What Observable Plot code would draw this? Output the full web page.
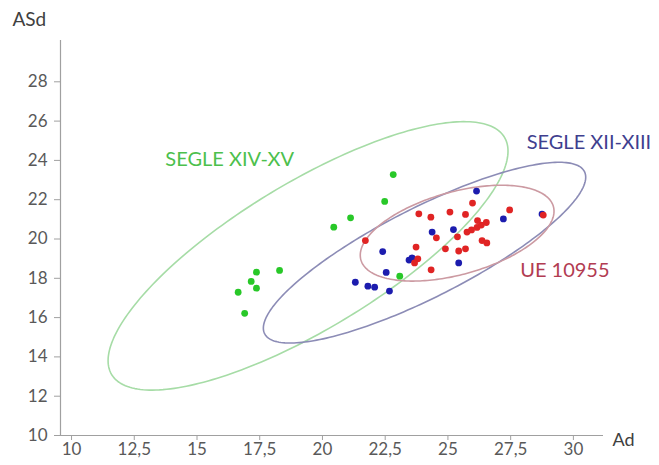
<!DOCTYPE html>
<html>
<head>
<meta charset="utf-8">
<script src="https://cdn.jsdelivr.net/npm/d3@7"></script>
<script src="https://cdn.jsdelivr.net/npm/@observablehq/plot@0.6"></script>
<style>
  body { margin: 0; background: #fff; }
  #chart svg { display: block; }
</style>
</head>
<body>
<div id="chart"></div>
<script>
// Segle XIV-XV
const xivAd  = [22.82, 22.48, 21.12, 20.45, 18.29, 17.37, 17.16, 17.37, 16.64, 16.90, 23.08];
const xivASd = [23.28, 21.91, 21.08, 20.60, 18.40, 18.31, 17.84, 17.50, 17.29, 16.22, 18.11];

// Segle XII-XIII
const xiiAd  = [26.14, 27.21, 28.75, 24.37, 25.22, 25.43, 23.57, 23.45, 22.40, 22.54, 21.31, 21.81, 22.08, 22.67];
const xiiASd = [22.44, 21.02, 21.27, 20.35, 20.48, 18.78, 19.04, 18.93, 19.36, 18.30, 17.80, 17.60, 17.55, 17.35];

// UE 10955
const ueAd  = [21.71, 23.84, 24.32, 25.08, 25.70, 25.98, 27.46, 24.54, 25.38, 25.76, 25.94, 26.16, 26.33,
               26.53, 26.18, 26.36, 26.55, 24.90, 25.43, 25.70, 23.73, 23.80, 23.67, 24.33, 28.80];
const ueASd = [19.92, 21.28, 21.11, 21.37, 21.25, 21.83, 21.48, 20.06, 20.11, 20.35, 20.46, 20.59, 20.71,
               20.84, 20.94, 19.92, 19.80, 19.50, 19.39, 19.50, 19.59, 18.99, 18.78, 18.43, 21.22];

const groupNames = ["SEGLE XIV-XV", "SEGLE XII-XIII", "UE 10955"];
const xTicks = [10, 12.5, 15, 17.5, 20, 22.5, 25, 27.5, 30];
const yTicks = [10, 12, 14, 16, 18, 20, 22, 24, 26, 28];

const rows = (group, ad, asd) => ad.map((x, i) => ({group, Ad: x, ASd: asd[i]}));

// 95% ellipse of a bivariate sample: k^2 = 2(n-1)/(n-2) * F(0.95; 2, n-2)
function ellipse(group, ad, asd, steps = 240) {
  const n = ad.length;
  const mx = d3.mean(ad), my = d3.mean(asd);
  let sxx = 0, syy = 0, sxy = 0;
  for (let i = 0; i < n; i++) {
    const dx = ad[i] - mx, dy = asd[i] - my;
    sxx += dx * dx; syy += dy * dy; sxy += dx * dy;
  }
  sxx /= n - 1; syy /= n - 1; sxy /= n - 1;
  const d = n - 2;
  const f = d / 2 * (Math.pow(0.05, -2 / d) - 1);
  const k = Math.sqrt(2 * (n - 1) / (n - 2) * f);
  const l11 = Math.sqrt(sxx), l21 = sxy / l11, l22 = Math.sqrt(syy - l21 * l21);
  return d3.range(steps).map(j => {
    const t = 2 * Math.PI * j / steps, c = Math.cos(t), s = Math.sin(t);
    return {group, Ad: mx + k * l11 * c, ASd: my + k * (l21 * c + l22 * s)};
  });
}

const xiv = rows(groupNames[0], xivAd, xivASd);
const xii = rows(groupNames[1], xiiAd, xiiASd);
const ue  = rows(groupNames[2], ueAd, ueASd);

const xMin = 9.56, xMax = 31.2;
const fmt = d => String(d).replace(".", ",");

const chart = Plot.plot({
  width: 659,
  height: 465,
  marginLeft: 60,
  marginRight: 56,
  marginTop: 42,
  marginBottom: 30,
  style: {fontFamily: "Lato, 'Open Sans', sans-serif", fontSize: "17px", color: "#595959", background: "#fff"},
  x: {domain: [xMin, xMax]},
  y: {domain: [10, 30]},
  marks: [
    Plot.axisX({ticks: xTicks, tickFormat: fmt, tickSize: 5, tickPadding: 2, label: null, stroke: "#a0a0a0"}),
    Plot.axisY({ticks: yTicks, tickSize: 6, tickPadding: 7, label: null, stroke: "#a0a0a0"}),
    Plot.ruleY([10], {stroke: "#a0a0a0", strokeWidth: 1.2}),
    Plot.ruleX([xMin], {y1: 10, y2: 30.1, stroke: "#a0a0a0", strokeWidth: 1.2}),

    Plot.line(ellipse(groupNames[0], xivAd, xivASd), {x: "Ad", y: "ASd", curve: "linear-closed", stroke: "#a6dca6", strokeWidth: 1.6}),
    Plot.line(ellipse(groupNames[1], xiiAd, xiiASd), {x: "Ad", y: "ASd", curve: "linear-closed", stroke: "#8c8cb6", strokeWidth: 1.6}),
    Plot.line(ellipse(groupNames[2], ueAd, ueASd), {x: "Ad", y: "ASd", curve: "linear-closed", stroke: "#cc9aa2", strokeWidth: 1.6}),

    Plot.dot(xiv, {x: "Ad", y: "ASd", r: 3.4, fill: "#28c828", stroke: "none"}),
    Plot.dot(xii, {x: "Ad", y: "ASd", r: 3.4, fill: "#1c1cae", stroke: "none"}),
    Plot.dot(ue,  {x: "Ad", y: "ASd", r: 3.4, fill: "#e02424", stroke: "none"}),

    Plot.text([groupNames[0]], {x: 16.3, y: 24.05, fill: "#4cc04c", fontSize: 20}),
    Plot.text([groupNames[1]], {x: 30.62, y: 24.93, fill: "#3f3f8f", fontSize: 20}),
    Plot.text([groupNames[2]], {x: 29.66, y: 18.40, fill: "#b23c52", fontSize: 20}),

    Plot.text(["ASd"], {frameAnchor: "top-left", dx: -48, dy: -30, fill: "#404040", fontSize: 19}),
    Plot.text(["Ad"], {frameAnchor: "bottom-right", dx: 9, dy: 5, textAnchor: "start", lineAnchor: "middle", fill: "#404040", fontSize: 18})
  ]
});

document.getElementById("chart").appendChild(chart);
</script>
</body>
</html>
